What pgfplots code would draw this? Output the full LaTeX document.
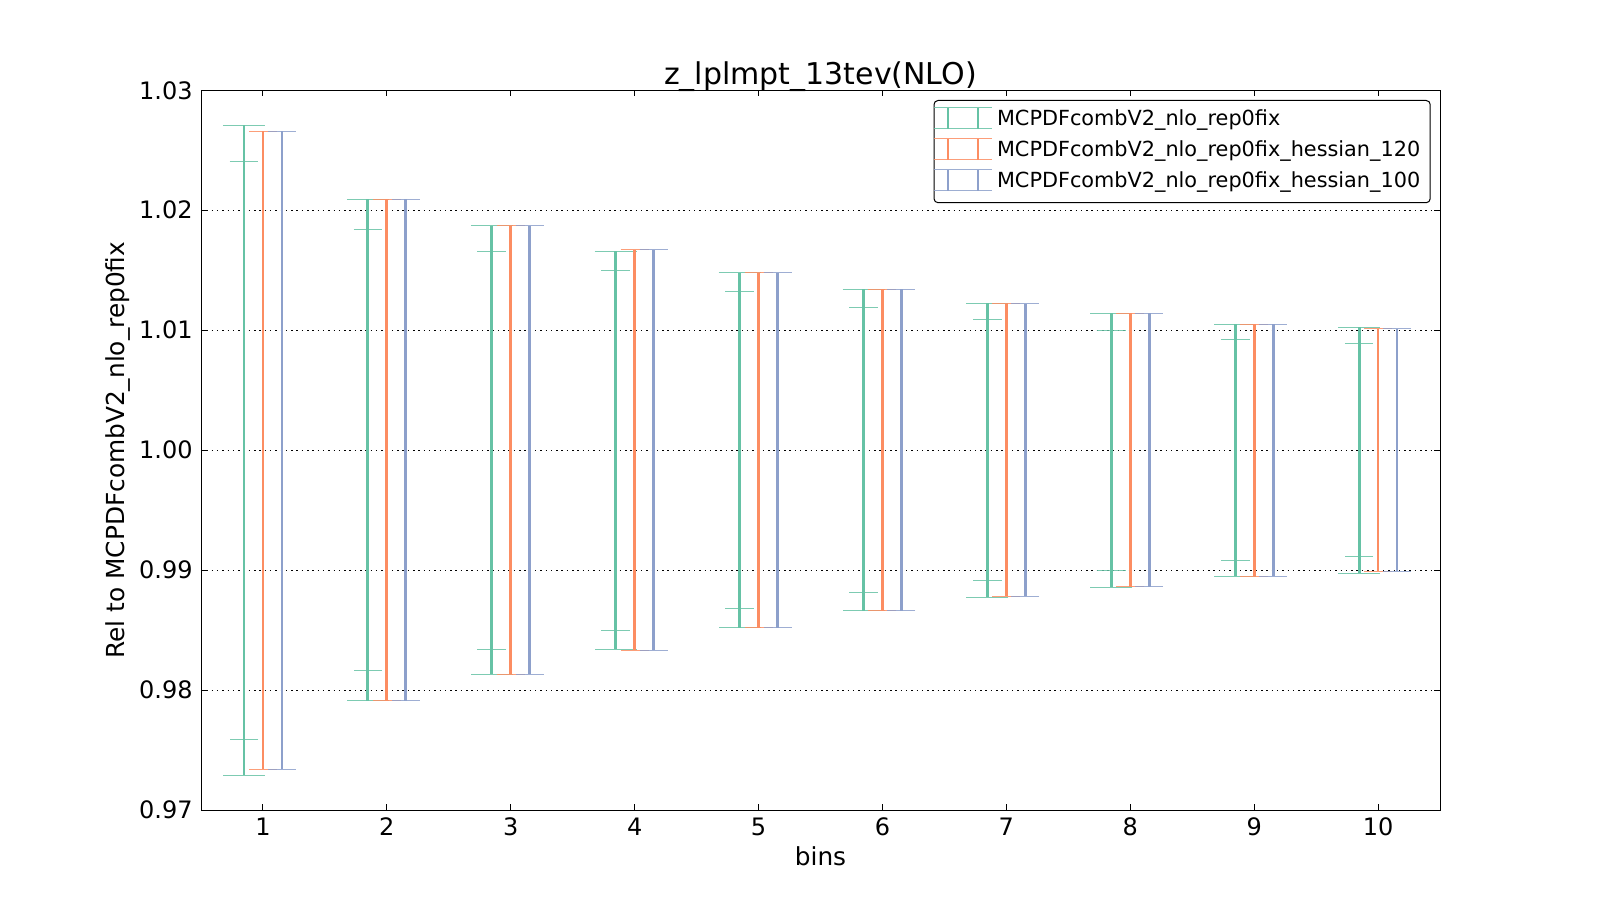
\documentclass[border=0pt]{standalone}
\usepackage{pgfplots}
\pgfplotsset{compat=1.18}
\usepackage{pgfplotstable}
\usepackage{fontspec}
\setmainfont{DejaVu Sans}
\definecolor{cgreen}{HTML}{66C2A5}
\definecolor{corange}{HTML}{FC8D62}
\definecolor{cblue}{HTML}{8DA0CB}

\pgfplotstableread{
x y e
0.847 1 0.0271
1.847 1 0.0209
2.847 1 0.0187
3.847 1 0.0166
4.847 1 0.0148
5.847 1 0.0134
6.847 1 0.01225
7.847 1 0.01142
8.847 1 0.0105
9.847 1 0.01025
}\greenouter

\pgfplotstableread{
x y e
0.847 1 0.0241
1.847 1 0.0184
2.847 1 0.0166
3.847 1 0.0150
4.847 1 0.0132
5.847 1 0.0119
6.847 1 0.0109
7.847 1 0.0100
8.847 1 0.0092
9.847 1 0.0089
}\greeninner

\pgfplotstableread{
x y e
1 1 0.0266
2 1 0.0209
3 1 0.0187
4 1 0.0167
5 1 0.0148
6 1 0.0134
7 1 0.0122
8 1 0.0114
9 1 0.0105
10 1 0.0101
}\orangedata

\pgfplotstableread{
x y e
1.153 1 0.0266
2.153 1 0.0209
3.153 1 0.0187
4.153 1 0.0167
5.153 1 0.0148
6.153 1 0.0134
7.153 1 0.0122
8.153 1 0.0114
9.153 1 0.0105
10.153 1 0.0101
}\bluedata

\newcommand{\errlegend}[1]{%
  \draw[overlay, draw=#1, line width=0.5pt, opacity=0.85, rounded corners=0pt] (-2.5pt,-4.05pt) -- (26.5pt,-4.05pt);
  \draw[overlay, draw=#1, line width=0.5pt, opacity=0.85, rounded corners=0pt] (-2.5pt,6.45pt) -- (26.5pt,6.45pt);
  \draw[draw=#1, line width=1.4pt] (4.5pt,-4.05pt) -- (4.5pt,6.45pt);
  \draw[draw=#1, line width=1.4pt] (19.5pt,-4.05pt) -- (19.5pt,6.45pt);
  \path[draw=none, fill=none] (0pt,-4.05pt) rectangle (26.5pt,6.45pt);%
}

\pgfplotsset{
  bars/.style={draw=none, mark=none, line width=1.4pt,
    error bars/.cd, y dir=both, y explicit, error mark=none,
    error bar style={draw=#1, line width=1.4pt}},
  caps/.style 2 args={draw=none, mark=none, forget plot,
    error bars/.cd, y dir=both, y explicit,
    error bar style={draw=#1, line width=0.5pt},
    error mark options={draw=#1, line width=0.5pt, opacity=0.85, mark size=#2, rotate=90}},
}

\begin{document}
\begin{tikzpicture}
\path[use as bounding box] (0,0) rectangle (800pt,450pt);
\begin{axis}[
  at={(100.5pt,45pt)}, anchor=south west,
  scale only axis, width=619.5pt, height=359.85pt,
  xmin=0.5, xmax=10.5, ymin=0.97, ymax=1.03,
  xtick={1,2,3,4,5,6,7,8,9,10},
  xticklabels={1,2,3,4,5,6,7,8,9,10},
  ytick={0.97,0.98,0.99,1.00,1.01,1.02,1.03},
  yticklabels={0.97,0.98,0.99,1.00,1.01,1.02,1.03},
  tick align=inside, tick pos=both,
  major tick length=3pt,
  every tick/.style={black, line width=0.5pt},
  axis line style={black, line width=0.5pt},
  ymajorgrids,
  major grid style={black, line width=0.5pt, dash pattern=on 0.75pt off 1.9pt},
  tick label style={font=\fontsize{12}{14}\selectfont},
  xticklabel style={anchor=north, inner sep=0pt, yshift=-3.65pt},
  yticklabel style={anchor=east, inner sep=0pt, xshift=-4pt},
  title={z\_lplmpt\_13tev(NLO)},
  title style={at={(axis description cs:0.5,1)}, anchor=base, yshift=-3.2pt, inner sep=0pt, font=\fontsize{15}{18}\selectfont},
  xlabel={bins},
  xlabel style={at={(axis description cs:0.5,0)}, anchor=base, yshift=-27.85pt, inner sep=0pt, font=\fontsize{12.4}{14}\selectfont},
  ylabel={Rel to MCPDFcombV2\_nlo\_rep0fix},
  ylabel style={at={([xshift=-38pt]axis description cs:0,0.5)}, anchor=base, inner sep=0pt, font=\fontsize{12.4}{14}\selectfont},
  legend cell align=left,
  legend style={at={(axis description cs:1,1)}, anchor=north east, xshift=-4.65pt, yshift=-4.85pt,
    draw=black, line width=0.5pt, rounded corners=2pt, fill=white,
    inner xsep=2.5pt, inner ysep=2.3pt, row sep=0pt, column sep=0pt,
    font=\fontsize{10.4}{12}\selectfont,
    nodes={inner xsep=2.5pt, inner ysep=2.75pt, text height=7.6pt, text depth=2.4pt}},
]
% green
\addplot[caps={cgreen}{10.5pt}] table[x=x, y=y, y error=e]{\greenouter};
\addplot[caps={cgreen}{7.15pt}] table[x=x, y=y, y error=e]{\greeninner};
\addplot[legend image code/.code={\errlegend{cgreen}}, bars=cgreen]
  table[x=x, y=y, y error=e]{\greenouter};
\addlegendentry{MCPDFcombV2\_nlo\_rep0fix}
% orange
\addplot[caps={corange}{7pt}] table[x=x, y=y, y error=e]{\orangedata};
\addplot[legend image code/.code={\errlegend{corange}}, bars=corange]
  table[x=x, y=y, y error=e]{\orangedata};
\addlegendentry{MCPDFcombV2\_nlo\_rep0fix\_hessian\_120}
% blue
\addplot[caps={cblue}{7pt}] table[x=x, y=y, y error=e]{\bluedata};
\addplot[legend image code/.code={\errlegend{cblue}}, bars=cblue]
  table[x=x, y=y, y error=e]{\bluedata};
\addlegendentry{MCPDFcombV2\_nlo\_rep0fix\_hessian\_100}
\end{axis}
\end{tikzpicture}
\end{document}
